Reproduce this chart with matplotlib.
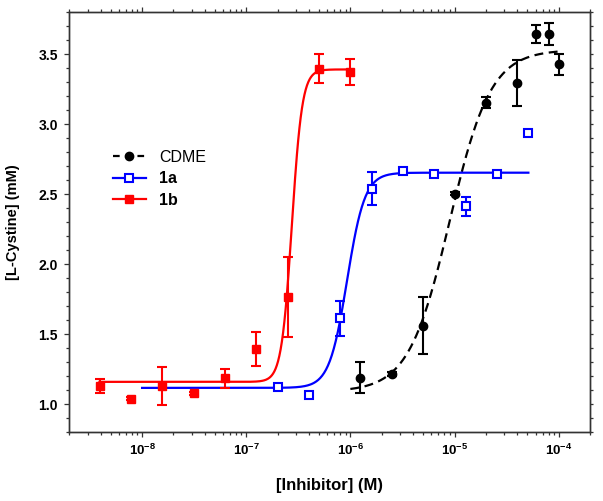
import numpy as np
import matplotlib
matplotlib.use("Agg")
import matplotlib.pyplot as plt
from matplotlib.lines import Line2D
from matplotlib.ticker import FixedLocator, LogLocator, MultipleLocator, NullFormatter

plt.rcParams['font.family'] = ['Liberation Sans', 'DejaVu Sans']
plt.rcParams['mathtext.fontset'] = 'custom'
plt.rcParams['mathtext.rm'] = 'Liberation Sans'
plt.rcParams['mathtext.bf'] = 'Liberation Sans:bold'

# ---- data ----
cdme_x = [1.25e-6, 2.5e-6, 5e-6, 1e-5, 2e-5, 4e-5, 6e-5, 8e-5, 1e-4]
cdme_y = [1.19, 1.217, 1.562, 2.503, 3.153, 3.293, 3.641, 3.641, 3.426]
cdme_err = [0.11, 0.012, 0.205, 0.012, 0.04, 0.165, 0.065, 0.08, 0.075]

a1_x = [2e-7, 4e-7, 8e-7, 1.6e-6, 3.2e-6, 6.4e-6, 1.28e-5, 2.56e-5, 5.12e-5]
a1_y = [1.126, 1.067, 1.614, 2.539, 2.664, 2.641, 2.412, 2.641, 2.936]
a1_err = [0.02, 0.0, 0.125, 0.12, 0.0, 0.0, 0.07, 0.0, 0.0]

b1_x = [3.9e-9, 7.8e-9, 1.56e-8, 3.125e-8, 6.25e-8, 1.25e-7, 2.5e-7, 5e-7, 1e-6]
b1_y = [1.134, 1.04, 1.13, 1.079, 1.186, 1.396, 1.764, 3.396, 3.371]
b1_err = [0.05, 0.012, 0.135, 0.012, 0.067, 0.12, 0.285, 0.105, 0.095]

# fitted logistic parameters: bottom, top, EC50, Hill slope, x-range
cdme_fit = dict(bottom=1.09, top=3.53, ec50=9.0e-6, hill=2.2, xmin=1e-6, xmax=1e-4)
a1_fit = dict(bottom=1.117, top=2.653, ec50=9.3e-7, hill=5.1, xmin=1e-8, xmax=5.12e-5)
b1_fit = dict(bottom=1.16, top=3.39, ec50=2.74e-7, hill=8.7, xmin=3.9e-9, xmax=1e-6)

xtick_vals = [1e-8, 1e-7, 1e-6, 1e-5, 1e-4]
xtick_labels = [r'$\mathbf{10^{-8}}$', r'$\mathbf{10^{-7}}$', r'$\mathbf{10^{-6}}$',
                r'$\mathbf{10^{-5}}$', r'$\mathbf{10^{-4}}$']
ytick_vals = [1.0, 1.5, 2.0, 2.5, 3.0, 3.5]


def logistic(p):
    xs = np.logspace(np.log10(p['xmin']), np.log10(p['xmax']), 400)
    ys = p['bottom'] + (p['top'] - p['bottom']) / (1 + (p['ec50'] / xs) ** p['hill'])
    return xs, ys


fig = plt.figure(figsize=(6.03, 5.01), dpi=100)
ax = fig.add_axes([69.3 / 603, (501 - 432.3) / 501, (590 - 69.3) / 603, (432.3 - 12) / 501])

black, blue, red = '#000000', '#0000ff', '#ff0000'

# curves
xs, ys = logistic(cdme_fit)
ax.plot(xs, ys, color=black, lw=1.6, dashes=(4, 2.5))
xs, ys = logistic(a1_fit)
ax.plot(xs, ys, color=blue, lw=1.6)
xs, ys = logistic(b1_fit)
ax.plot(xs, ys, color=red, lw=1.6)

ekw = dict(ls='none', capsize=3.8, elinewidth=1.5, capthick=1.5)
ax.errorbar(cdme_x, cdme_y, yerr=cdme_err, color=black, marker='o', ms=6, **ekw)
ax.errorbar(a1_x, a1_y, yerr=a1_err, color=blue, marker='s', ms=6,
            mfc='white', mec=blue, mew=1.5, **ekw)
ax.errorbar(b1_x, b1_y, yerr=b1_err, color=red, marker='s', ms=5.5, **ekw)

ax.set_xscale('log')
ax.set_xlim(2e-9, 2.0e-4)
ax.set_ylim(0.8, 3.8)

ax.xaxis.set_major_locator(FixedLocator(xtick_vals))
ax.set_xticklabels(xtick_labels, fontsize=9.5)
ax.xaxis.set_minor_locator(LogLocator(base=10, subs=np.arange(2, 10)))
ax.xaxis.set_minor_formatter(NullFormatter())
ax.set_yticks(ytick_vals)
ax.set_yticklabels([f'{v:.1f}' for v in ytick_vals], fontsize=10, fontweight='bold')
ax.yaxis.set_minor_locator(MultipleLocator(0.1))

ax.tick_params(axis='both', which='major', direction='out', length=3.8, width=0.9, color='#333333')
ax.tick_params(axis='both', which='minor', direction='out', length=2.0, width=0.9, color='#333333')
ax.tick_params(axis='x', which='both', top=True, pad=4)
ax.tick_params(axis='y', which='both', right=False, pad=4.5)

ax2 = ax.twinx()
ax2.set_ylim(ax.get_ylim())
ax2.yaxis.set_major_locator(MultipleLocator(0.1))
ax2.yaxis.set_major_formatter(NullFormatter())
ax2.tick_params(axis='y', direction='out', length=2.0, width=0.9, color='#333333')

for a in (ax, ax2):
    for s in a.spines.values():
        s.set_linewidth(1.0)
        s.set_color('#333333')

ax.set_xlabel('[Inhibitor] (M)', fontsize=12, fontweight='bold', labelpad=14)
ax.set_ylabel('[L-Cystine] (mM)', fontsize=10.5, fontweight='bold', labelpad=13)

handles = [
    Line2D([], [], color=black, lw=1.6, dashes=(3, 2.5), marker='o', ms=6),
    Line2D([], [], color=blue, lw=1.6, marker='s', ms=6, mfc='white', mew=1.5),
    Line2D([], [], color=red, lw=1.6, marker='s', ms=5.5),
]
leg = ax.legend(handles, ['CDME', '1a', '1b'], loc='center left',
                bbox_to_anchor=(0.083, 0.603), frameon=False, fontsize=11.5,
                handlelength=2.1, handletextpad=0.8, labelspacing=0.42,
                borderpad=0, borderaxespad=0)
leg.get_texts()[1].set_fontweight('bold')
leg.get_texts()[2].set_fontweight('bold')

fig.savefig('out.png', dpi=100)
